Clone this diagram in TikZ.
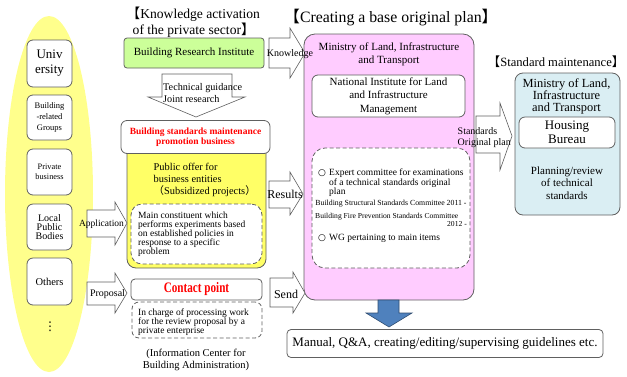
\documentclass[tikz,border=0pt]{standalone}
\usepackage{fontspec}
\setmainfont{Liberation Serif}
\newfontfamily\cjk{Noto Sans CJK JP}
\newfontfamily\dejavu{DejaVu Sans}
\usetikzlibrary{shapes.geometric}
\definecolor{edge}{HTML}{606060}
\definecolor{ellyellow}{HTML}{FFFF8C}
\definecolor{boxyellow}{HTML}{FFFF66}
\definecolor{boxgreen}{HTML}{CCFF99}
\definecolor{boxpink}{HTML}{FFCCFF}
\definecolor{boxblue}{HTML}{DAEEF3}
\definecolor{arrowblue}{HTML}{4F81BD}
\definecolor{redtext}{HTML}{FF0000}
\newcommand{\fs}[2]{\fontsize{#1}{#2}\selectfont}
\begin{document}
\begin{tikzpicture}[x=1pt,y=-1pt,
  box/.style={draw=edge, line width=0.8pt, fill=white, rounded corners=6pt, inner sep=0pt, align=center},
  dbox/.style={draw=edge, line width=0.8pt, dashed, dash pattern=on 4pt off 2.5pt, fill=white, rounded corners=11pt, inner sep=0pt},
  barrow/.style={draw=edge, line width=0.6pt, fill=white},
  lbl/.style={inner sep=0pt, align=left},
  ctr/.style={inner sep=0pt, align=center},
]
\useasboundingbox (0,0) rectangle (627,376);

% ---------- left ellipse and boxes
\node[ellipse, fill=ellyellow, draw=none, minimum width=88pt, minimum height=356pt, inner sep=0pt] (ell) at (49,194) {};
\node[box, minimum width=45pt, minimum height=47pt, font=\fs{13}{15}] (univ) at (49.5,63.5) {Univ\\ersity};
\node[box, minimum width=45pt, minimum height=45pt, font=\fs{8.5}{10.6}] (groups) at (49.5,117.5) {Building\\-related\\Groups};
\node[box, minimum width=45pt, minimum height=46pt, font=\fs{8.3}{10}] (priv) at (49.5,172) {Private\\business};
\node[box, minimum width=45pt, minimum height=46pt, font=\fs{10}{9.2}] (local) at (49.5,227) {Local\\Public\\Bodies};
\node[box, minimum width=45pt, minimum height=47pt, font=\fs{10.5}{12}] (others) at (49.5,281.5) {Others};
\node[inner sep=0pt, font=\dejavu\fs{12}{12}] (dots) at (50,327) {⋮};

% ---------- knowledge activation
\node[lbl, anchor=west, font=\fs{13.6}{13.7}] (t1) at (126.5,22) {{\cjk 【}Knowledge activation\\\hspace*{6pt}of the private sector{\cjk 】}};
\node[box, fill=boxgreen, rounded corners=3pt, minimum width=140pt, minimum height=30pt, font=\fs{11}{12}] (bri) at (194,53) {Building Research Institute};

\draw[barrow] (162,74) -- (232,74) -- (232,97) -- (245,97) -- (196,117) -- (148,97) -- (162,97) -- cycle;
\node[lbl, anchor=west, font=\fs{10.2}{12}] (tg) at (163,93.5) {Technical guidance\\Joint research};

\node[box, fill=boxyellow, rounded corners=9pt, minimum width=139pt, minimum height=128pt] (ybox) at (196.5,204) {};
\node[box, minimum width=149pt, minimum height=33pt, font=\fs{9.5}{10}\bfseries, text=redtext] (bsm) at (195.5,137) {Building standards maintenance\\promotion business};
\node[lbl, anchor=west, font=\fs{10.4}{12.2}] (po) at (153.5,180) {Public offer for\\business entities\\{\cjk （}Subsidized projects{\cjk ）}};
\node[dbox, minimum width=131pt, minimum height=60pt] (main) at (196.5,234) {};
\node[lbl, anchor=west, font=\fs{9.5}{9}] (maint) at (138,234) {Main constituent which\\performs experiments based\\on established policies in\\response to a specific\\problem};

\node[box, rounded corners=4pt, minimum width=131pt, minimum height=21pt, font=\fs{14.5}{15}\bfseries, text=redtext] (cp) at (196.5,289.5) {\scalebox{0.77}[1]{Contact point}};
\node[dbox, rounded corners=7pt, minimum width=130pt, minimum height=36pt] (charge) at (197,320) {};
\node[lbl, anchor=west, font=\fs{9.5}{9}] (charget) at (138,322) {In charge of processing work\\for the review proposal by a\\private enterprise};
\node[ctr, font=\fs{10.5}{12.3}] (icba) at (196,360) {(Information Center for\\Building Administration)};

% ---------- arrows from left
\draw[barrow] (87,210) -- (115,210) -- (115,202) -- (127,223) -- (115,245) -- (115,237) -- (87,237) -- cycle;
\node[inner sep=0pt, font=\fs{9.5}{10}] (appl) at (101.5,224) {Application};
\draw[barrow] (87,282) -- (115,282) -- (115,273) -- (127,293) -- (115,313) -- (115,305) -- (87,305) -- cycle;
\node[inner sep=0pt, font=\fs{10}{10}] (prop) at (107.5,294) {Proposal};

% ---------- creating a base original plan
\node[lbl, anchor=west, font=\fs{15.8}{16}] (t2) at (284,18) {{\cjk 【}Creating a base original plan{\cjk 】}};
\node[box, fill=boxpink, rounded corners=11pt, minimum width=170pt, minimum height=266pt] (pink) at (389,167) {};
\node[ctr, font=\fs{11}{13}] (mlit1) at (389,54.5) {Ministry of Land, Infrastructure\\and Transport};
\node[box, minimum width=153pt, minimum height=42pt, font=\fs{11}{13.5}] (nilim) at (388.5,96) {National Institute for Land\\and Infrastructure\\Management};
\node[dbox, rounded corners=13pt, minimum width=158pt, minimum height=120pt] (exp) at (391,208) {};
\node[inner sep=0pt, font=\dejavu\fs{9}{9}] (c1) at (322,173) {○};
\node[lbl, anchor=west, font=\fs{9.5}{8.7}] (expt) at (329,182.5) {Expert committee for examinations\\of a technical standards original\\plan};
\node[inner sep=0pt, font=\fs{7.8}{8}] (bssc) at (391,203.5) {Building Structural Standards Committee 2011 -};
\node[inner sep=0pt, anchor=west, font=\fs{7.6}{8}] (bfps) at (315,217) {Building Fire Prevention Standards Committee};
\node[inner sep=0pt, anchor=east, font=\fs{7.6}{8}] (bfps2) at (467,224) {2012 -};
\node[inner sep=0pt, font=\dejavu\fs{9}{9}] (c2) at (322,238) {○};
\node[lbl, anchor=west, font=\fs{9.5}{9}] (wg) at (329,238.5) {WG pertaining to main items};

% arrows into pink
\draw[barrow] (269,38) -- (290,38) -- (290,28) -- (305,53) -- (290,78) -- (290,68) -- (269,68) -- cycle;
\node[inner sep=0pt, font=\fs{10}{11}] (knw) at (290,54) {Knowledge};
\draw[barrow] (269,181) -- (290,181) -- (290,172) -- (303,194) -- (290,215) -- (290,208) -- (269,208) -- cycle;
\node[inner sep=0pt, font=\fs{12}{12}] (res) at (285,194) {Results};
\draw[barrow] (270,278) -- (293,278) -- (293,272) -- (305,293) -- (293,313) -- (293,307) -- (270,307) -- cycle;
\node[inner sep=0pt, font=\fs{12}{12}] (send) at (286,294) {Send};

% ---------- standard maintenance
\draw[barrow] (476,116) -- (500,116) -- (500,103) -- (512,136) -- (500,170) -- (500,153) -- (476,153) -- cycle;
\node[lbl, anchor=west, font=\fs{10}{11}] (sop) at (457.5,137.5) {Standards\\Original plan};
\node[lbl, anchor=west, font=\fs{12.6}{13}] (t3) at (487.5,62) {{\cjk 【}Standard maintenance{\cjk 】}};
\node[box, fill=boxblue, rounded corners=8pt, minimum width=105pt, minimum height=142pt] (blue) at (567.5,144) {};
\node[ctr, font=\fs{12.4}{12.3}] (mlit2) at (566.5,96.5) {Ministry of Land,\\Infrastructure\\and Transport};
\node[box, minimum width=96pt, minimum height=31pt, font=\fs{13}{13.5}] (hb) at (567,132.5) {Housing\\Bureau};
\node[ctr, font=\fs{11}{12.7}] (plan) at (567,183) {Planning/review\\of technical\\standards};

% ---------- output
\draw[draw=arrowblue!60!black, line width=0.6pt, fill=arrowblue] (378,300) -- (399,300) -- (399,313) -- (412,313) -- (389,327) -- (366,313) -- (378,313) -- cycle;
\node[box, rounded corners=4pt, minimum width=316pt, minimum height=28pt, font=\fs{13}{13}] (manual) at (445,343.5) {Manual, Q\&A, creating/editing/supervising guidelines etc.};
\end{tikzpicture}
\end{document}
